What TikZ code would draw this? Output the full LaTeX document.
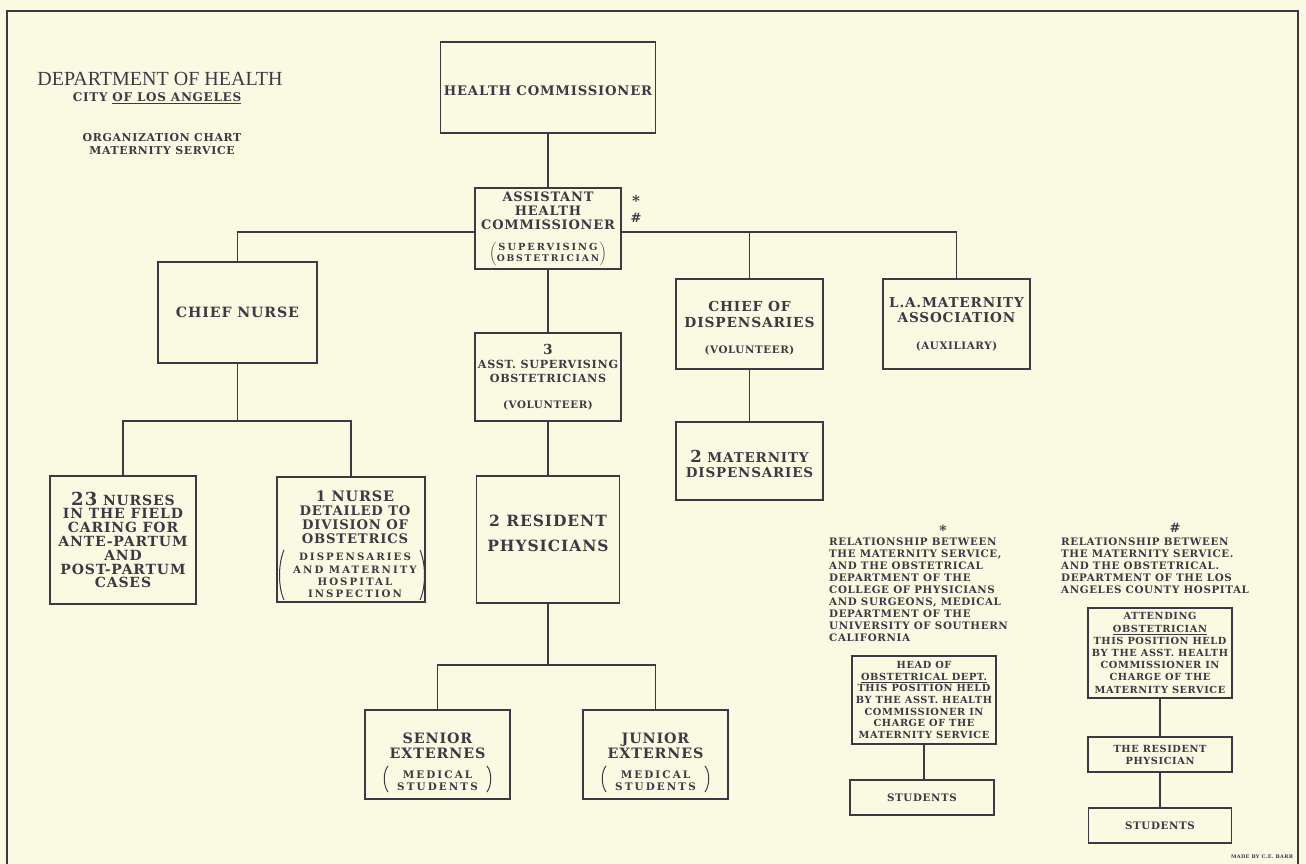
\documentclass[tikz,border=0pt]{standalone}
\usepackage{fontspec}
\setmainfont{DejaVu Serif}
\newfontfamily\titlefont{Liberation Serif}
\newfontfamily\chart{DejaVu Serif}[LetterSpace=6]
\newfontfamily\chartw{DejaVu Serif}[LetterSpace=20]
\definecolor{paper}{RGB}{250,249,226}
\definecolor{ink}{RGB}{58,58,68}
\newcommand{\setfs}[2]{\fontsize{#1}{#2}\selectfont}
\newcommand{\pgroup}[1]{$\left(\begin{tabular}{@{}c@{}}#1\end{tabular}\right)$}
\newcommand{\smallw}[1]{{\chartw\bfseries\setfs{10.4}{12}#1}}
\begin{document}
\begin{tikzpicture}[x=1pt,y=-1pt,
  box/.style={draw=ink, line width=1.6pt, fill=paper, inner sep=0pt, align=center, text=ink},
  conn/.style={draw=ink, line width=1.6pt},
  tx/.style={inner sep=0pt, text=ink, align=center},
  paren/.style={draw=ink, line width=1pt},
  note/.style={inner sep=0pt, text=ink, align=left, font=\chart\bfseries\setfs{10.3}{11.9}}]
\useasboundingbox (0,0) rectangle (1306,864);
\fill[paper] (0,0) rectangle (1306,864);
% frame
\draw[ink, line width=1.4pt] (7,864) -- (7,11) -- (1298,11) -- (1298,864);

% title
\node[tx, font=\titlefont\setfs{20}{22}] (t1) at (160,79) {DEPARTMENT OF HEALTH};
\node[tx, font=\chart\bfseries\setfs{12}{13}] (t2) at (157,98) {CITY \underline{OF LOS ANGELES}};
\node[tx, font=\chart\bfseries\setfs{10.9}{13.5}] (t3) at (162,144) {ORGANIZATION CHART\\MATERNITY SERVICE};

% main chart boxes
\node[box, minimum width=215, minimum height=91] (hc) at (548,87.5) {};
\node[tx, font=\chart\bfseries\setfs{13.2}{14}] (hct) at (548,91) {HEALTH COMMISSIONER};

\node[box, minimum width=146, minimum height=81] (ahc) at (548,228.5) {};
\node[tx, font=\chart\bfseries\setfs{13}{14}] (ahct) at (548,229)
  {ASSISTANT\\HEALTH\\COMMISSIONER\\[11pt]{\chartw\bfseries\setfs{9.8}{10.5}\pgroup{SUPERVISING\\{\setfs{9.2}{10.5}OBSTETRICIAN}}}};
\node[tx, font=\chart\bfseries\setfs{15}{14}] (mstar) at (636,201) {*};
\node[tx, font=\chart\bfseries\setfs{13}{14}] (mhash) at (636,218) {\#};

\node[box, minimum width=159, minimum height=101, font=\chart\bfseries\setfs{14.2}{14}] (cn) at (237.5,312.5) {CHIEF NURSE};
\node[box, minimum width=146, minimum height=128, font=\chart\bfseries\setfs{14}{13.8}] (n23) at (123,540)
  {{\setfs{18}{14}23} NURSES\\IN THE FIELD\\CARING FOR\\ANTE-PARTUM\\AND\\POST-PARTUM\\CASES};

\node[box, minimum width=148, minimum height=125] (n1) at (351,539.5) {};
\node[tx, font=\chart\bfseries\setfs{13.2}{14}] (n1t) at (355,546)
  {{\setfs{14.4}{14}1 NURSE}\\DETAILED TO\\DIVISION OF\\OBSTETRICS\\[8pt]{\chartw\bfseries\setfs{10.2}{12.3}\begin{tabular}{@{}c@{}}DISPENSARIES\\AND MATERNITY\\HOSPITAL\\INSPECTION\end{tabular}}};
\draw[paren] (284,550) .. controls (278,564) and (278,587) .. (284,600);
\draw[paren] (420,550) .. controls (426,564) and (426,587) .. (420,600);

\node[box, minimum width=146, minimum height=88, font=\chart\bfseries\setfs{11.2}{14}] (aso) at (548,377)
  {{\setfs{13.8}{14}3}\\ASST. SUPERVISING\\OBSTETRICIANS\\[12pt]{\setfs{10.3}{14}(VOLUNTEER)}};

\node[box, minimum width=143, minimum height=127] (rp) at (548,539.5) {};
\node[tx, font=\chart\bfseries\setfs{15.5}{25}] (rpt) at (548,533) {2 RESIDENT\\PHYSICIANS};

\node[box, minimum width=145, minimum height=89] (se) at (437.5,754.5) {};
\node[tx, font=\chart\bfseries\setfs{14.3}{15}] (set) at (437.5,761.5)
  {SENIOR\\EXTERNES\\[5pt]\smallw{MEDICAL}\\[-3pt]\smallw{STUDENTS}};
\draw[paren] (388,766) .. controls (383,772) and (383,785) .. (388,792);
\draw[paren] (487,766) .. controls (492,772) and (492,785) .. (487,792);
\node[box, minimum width=145, minimum height=89] (je) at (655.5,754.5) {};
\node[tx, font=\chart\bfseries\setfs{14.3}{15}] (jet) at (655.5,761.5)
  {JUNIOR\\EXTERNES\\[5pt]\smallw{MEDICAL}\\[-3pt]\smallw{STUDENTS}};
\draw[paren] (606,766) .. controls (601,772) and (601,785) .. (606,792);
\draw[paren] (705,766) .. controls (710,772) and (710,785) .. (705,792);

\node[box, minimum width=147, minimum height=90] (cod) at (749.5,324) {};
\node[tx, font=\chart\bfseries\setfs{13.8}{16}] (codt) at (749.5,328)
  {CHIEF OF\\DISPENSARIES\\[10pt]{\setfs{10.3}{14}(VOLUNTEER)}};
\node[box, minimum width=147, minimum height=78] (md) at (749.5,461) {};
\node[tx, font=\chart\bfseries\setfs{13.5}{15}] (mdt) at (749.5,464)
  {{\setfs{16.5}{15}2} MATERNITY\\DISPENSARIES};
\node[box, minimum width=147, minimum height=90, font=\chart\bfseries\setfs{13.6}{15}] (la) at (956.5,324)
  {L.A.MATERNITY\\ASSOCIATION\\[12pt]{\setfs{10.3}{14}(AUXILIARY)}};

% legend *
\node[tx, font=\chart\bfseries\setfs{14}{13}] (lstar) at (943,530) {*};
\node[note, anchor=north west] (leg1) at (829,538)
  {RELATIONSHIP BETWEEN\\THE MATERNITY SERVICE,\\AND THE OBSTETRICAL\\DEPARTMENT OF THE\\COLLEGE OF PHYSICIANS\\AND SURGEONS, MEDICAL\\DEPARTMENT OF THE\\UNIVERSITY OF SOUTHERN\\CALIFORNIA};
\node[box, minimum width=144, minimum height=88, font=\chart\bfseries\setfs{9.8}{11.6}] (hod) at (924,700)
  {HEAD OF\\\underline{OBSTETRICAL DEPT.}\\THIS POSITION HELD\\BY THE ASST. HEALTH\\COMMISSIONER IN\\CHARGE OF THE\\MATERNITY SERVICE};
\node[box, minimum width=144, minimum height=35, font=\chart\bfseries\setfs{10.3}{12}] (st1) at (922,797.5) {STUDENTS};

% legend #
\node[tx, font=\chart\bfseries\setfs{13}{12}] (lhash) at (1175,528) {\#};
\node[note, anchor=north west] (leg2) at (1061,538)
  {RELATIONSHIP BETWEEN\\THE MATERNITY SERVICE.\\AND THE OBSTETRICAL.\\DEPARTMENT OF THE LOS\\ANGELES COUNTY HOSPITAL};
\node[box, minimum width=144, minimum height=90, font=\chart\bfseries\setfs{9.8}{12.2}] (att) at (1160,653)
  {ATTENDING\\\underline{OBSTETRICIAN}\\THIS POSITION HELD\\BY THE ASST. HEALTH\\COMMISSIONER IN\\CHARGE OF THE\\MATERNITY SERVICE};
\node[box, minimum width=144, minimum height=35, font=\chart\bfseries\setfs{9.8}{12}] (res) at (1160,754.5) {THE RESIDENT\\PHYSICIAN};
\node[box, minimum width=143, minimum height=35, font=\chart\bfseries\setfs{10.3}{12}] (st2) at (1160,825.5) {STUDENTS};

\node[tx, font=\chart\bfseries\setfs{5}{5}] (credit) at (1262,857) {MADE BY C.E. BARR};

% connectors
\coordinate (bus) at (548,232);
\coordinate (cnb) at (237.5,421);
\coordinate (rpb) at (548,665);
\draw[conn] (hc.south) -- (ahc.north);
\draw[conn] (cn.north) |- (bus -| ahc.west);
\draw[conn] (bus -| ahc.east) -| (la.north);
\draw[conn] (cod.north) -- (cod.north |- bus);
\draw[conn] (ahc.south) -- (aso.north);
\draw[conn] (aso.south) -- (rp.north);
\draw[conn] (cn.south) -- (cnb);
\draw[conn] (n23.north) |- (cnb) -| (n1.north);
\draw[conn] (rp.south) -- (rpb);
\draw[conn] (se.north) |- (rpb) -| (je.north);
\draw[conn] (cod.south) -- (md.north);
\draw[conn] (hod.south) -- (hod.south |- st1.north);
\draw[conn] (att.south) -- (res.north);
\draw[conn] (res.south) -- (st2.north);
\end{tikzpicture}
\end{document}
